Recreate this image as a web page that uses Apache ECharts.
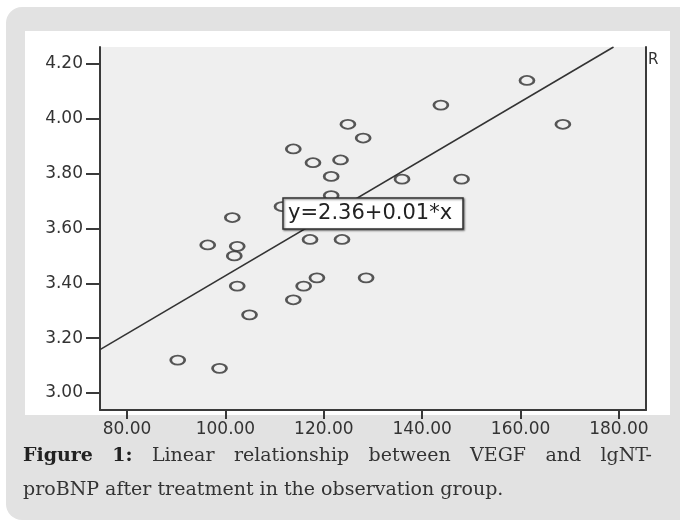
<!DOCTYPE html>
<html><head><meta charset="utf-8">
<script src="https://cdn.jsdelivr.net/npm/echarts@6/dist/echarts.min.js"></script>
<style>html,body{margin:0;padding:0;background:#fff;} #c{width:680px;height:526px;}</style>
</head><body><div id="c"></div>
<script>
// ---- data ----
const vegf = [90.3, 98.8, 96.4, 101.4, 102.4, 101.8, 102.4, 104.9, 113.8, 117.8, 123.4, 121.5, 124.9, 128.0, 121.5, 111.5, 117.2, 123.7, 113.8, 115.9, 118.6, 128.6, 135.9, 143.8, 148.0, 161.3, 168.6];
const lgNTproBNP = [3.12, 3.09, 3.54, 3.64, 3.535, 3.50, 3.39, 3.285, 3.89, 3.84, 3.85, 3.79, 3.98, 3.93, 3.72, 3.68, 3.56, 3.56, 3.34, 3.39, 3.42, 3.42, 3.78, 4.05, 3.78, 4.14, 3.98];
const fitX = [74.5, 178.9];
const fitY = [3.158, 4.262];
const xTicks = [80, 100, 120, 140, 160, 180];
const yTicks = [3.0, 3.2, 3.4, 3.6, 3.8, 4.0, 4.2];
const xRange = [74.5, 185.5];
const yRange = [2.938, 4.262];
const equationText = 'y=2.36+0.01*x';
const legendFragment = 'R';
const captionBold = ['Figure', '1:'];
const captionLine1 = ['Linear', 'relationship', 'between', 'VEGF', 'and', 'lgNT-'];
const captionLine2 = 'proBNP after treatment in the observation group.';

// ---- chart ----
const chart = echarts.init(document.getElementById('c'), null, {renderer: 'canvas'});
const points = vegf.map((v, i) => [v, lgNTproBNP[i]]);
const fit = fitX.map((v, i) => [v, fitY[i]]);

const axisColor = '#3a3a3a';
const labelFont = 'DejaVu Sans';
const capFont = 'DejaVu Serif';
const capSize = 19;

// justify caption line 1
const ctx = document.createElement('canvas').getContext('2d');
const tokens = captionBold.map(t => ({t, b: true})).concat(captionLine1.map(t => ({t, b: false})));
tokens.forEach(tk => {
  ctx.font = (tk.b ? 'bold ' : '') + capSize + 'px "' + capFont + '"';
  tk.w = ctx.measureText(tk.t).width;
});
const x0 = 23, x1 = 652;
const sumW = tokens.reduce((s, tk) => s + tk.w, 0);
const gap = (x1 - x0 - sumW) / (tokens.length - 1);
let cx = x0;
const capEls = [];
tokens.forEach(tk => {
  capEls.push({type: 'text', x: cx, y: 456, z: 10, style: {text: tk.t, font: (tk.b ? 'bold ' : '') + capSize + 'px "' + capFont + '"', fill: tk.b ? '#222' : '#333', verticalAlign: 'middle', align: 'left'}});
  cx += tk.w + gap;
});
capEls.push({type: 'text', x: x0, y: 490, z: 10, style: {text: captionLine2, font: capSize + 'px "' + capFont + '"', fill: '#333', verticalAlign: 'middle', align: 'left'}});

const ellipse = 'path://M0,50 A50,50 0 1,0 100,50 A50,50 0 1,0 0,50 Z';

chart.setOption({
  backgroundColor: '#ffffff',
  animation: false,
  grid: {left: 100, right: 34, top: 47, bottom: 116, show: true, backgroundColor: '#efefef', borderWidth: 0, containLabel: false},
  xAxis: {
    type: 'value', min: xRange[0], max: xRange[1],
    axisLine: {show: true, onZero: false, lineStyle: {color: axisColor, width: 2}},
    axisTick: {show: true, customValues: xTicks, length: 9, lineStyle: {color: axisColor, width: 2}},
    axisLabel: {customValues: xTicks, formatter: v => v.toFixed(2), fontFamily: labelFont, fontSize: 17, color: '#333', margin: 11},
    splitLine: {show: false}
  },
  yAxis: [{
    type: 'value', min: yRange[0], max: yRange[1],
    axisLine: {show: true, onZero: false, lineStyle: {color: axisColor, width: 2}},
    axisTick: {show: true, customValues: yTicks, length: 14, lineStyle: {color: axisColor, width: 2}},
    axisLabel: {customValues: yTicks, formatter: v => v.toFixed(2), fontFamily: labelFont, fontSize: 17, color: '#333', margin: 17},
    splitLine: {show: false}
  }, {
    type: 'value', min: yRange[0], max: yRange[1], position: 'right',
    axisLine: {show: true, onZero: false, lineStyle: {color: axisColor, width: 2}},
    axisTick: {show: false}, axisLabel: {show: false}, splitLine: {show: false}
  }],
  series: [{
    type: 'line', data: fit, symbol: 'none', clip: true, silent: true,
    lineStyle: {color: '#333', width: 1.6}, z: 2
  }, {
    type: 'scatter', data: points, symbol: ellipse, symbolSize: [14, 9],
    itemStyle: {color: 'rgba(0,0,0,0)', borderColor: '#2e2e2e', borderWidth: 2.2}, z: 3
  }],
  graphic: [
    {type: 'rect', z: -10, shape: {x: 6, y: 7, width: 700, height: 513, r: 16}, style: {fill: '#e2e2e2'}},
    {type: 'rect', z: -9, shape: {x: 25, y: 31, width: 645, height: 384}, style: {fill: '#ffffff'}},
    {type: 'rect', z: 20, shape: {x: 283, y: 198, width: 180, height: 31}, style: {fill: '#fff', stroke: '#333', lineWidth: 1.5, shadowBlur: 2, shadowOffsetX: 1, shadowOffsetY: 1, shadowColor: 'rgba(0,0,0,0.5)'}},
    {type: 'text', z: 21, x: 288, y: 214, style: {text: equationText, font: '21px "' + labelFont + '"', fill: '#222', verticalAlign: 'middle'}},
    {type: 'text', z: 21, x: 648, y: 60, style: {text: legendFragment, font: '15px "' + labelFont + '"', fill: '#333', verticalAlign: 'middle'}}
  ].concat(capEls)
});
</script>
</body></html>
